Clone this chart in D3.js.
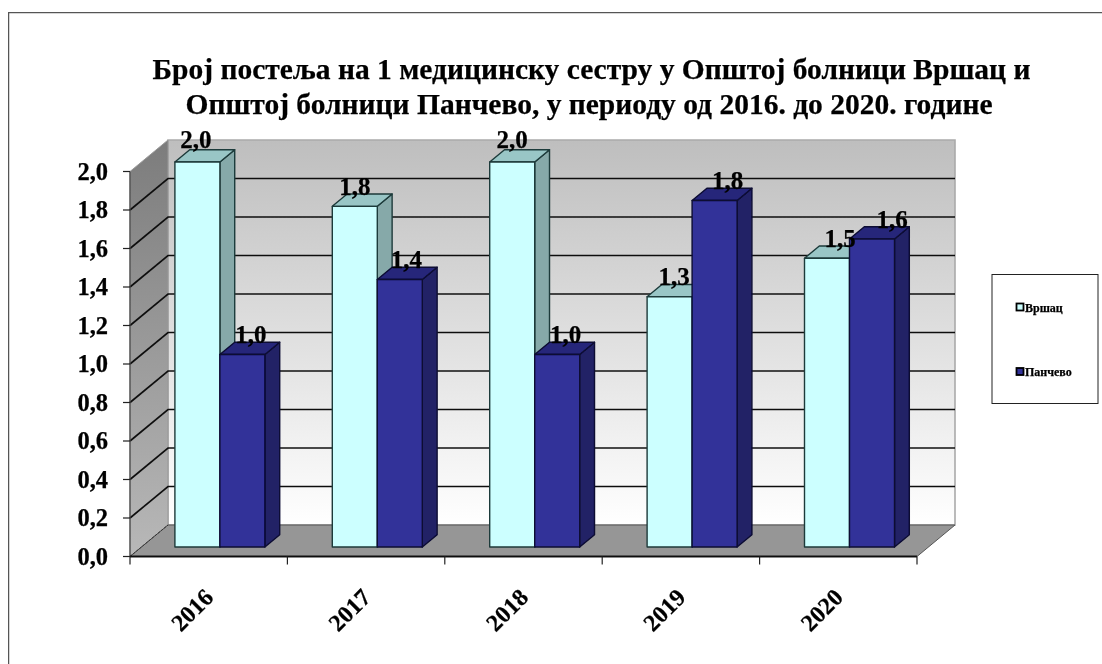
<!DOCTYPE html>
<html><head><meta charset="utf-8">
<script src="https://cdnjs.cloudflare.com/ajax/libs/d3/7.8.5/d3.min.js"></script>
<style>html,body{margin:0;padding:0;background:#fff}svg{display:block}text{font-family:"Liberation Serif",serif;font-weight:bold;fill:#000;stroke:#000;stroke-width:.25px}</style>
</head><body><svg id="c" width="1102" height="664"></svg>
<script>
const categories = ["2016","2017","2018","2019","2020"];
const vrsac = [2.0,1.77,2.0,1.3,1.5];
const pancevo = [1.0,1.39,1.0,1.8,1.6];
const seriesNames = ["Вршац","Панчево"];
const colors = ["#ccffff","#333399"];
const sideColors = ["#86a9a9","#222266"];
const topColors = ["#99c6c6","#26267a"];
const yTicks = [0,0.2,0.4,0.6,0.8,1.0,1.2,1.4,1.6,1.8,2.0];
const titleLines = ["Број постеља на 1 медицинску сестру у Општој болници Вршац и","Општој болници Панчево, у периоду од 2016. до 2020. године"];

const svg = d3.select("#c");
const fmt = v => d3.format(".1f")(v).replace(".",",");
const x0 = d3.scaleBand().domain(categories).range([130,917]);
const x1 = d3.scaleBand().domain([0,1]).range([0,90]);
const y = d3.scaleLinear().domain([0,2]).range([556.5,171.5]);
const DX = 38, DY = -31.5;
const pad = 45 - 11.5, zF = 0.3, zB = 0.69;
// horizontal drift of the data labels per series and category
const labelShift = [[-1.5,0,0,4.5,13],[8.5,6.5,8.5,13,20]];

const defs = svg.append("defs");
const g1 = defs.append("linearGradient").attr("id","wall").attr("x1",0).attr("y1",0).attr("x2",0).attr("y2",1);
g1.append("stop").attr("offset",0).attr("stop-color","#bebebe");
g1.append("stop").attr("offset",1).attr("stop-color","#ffffff");
const g2 = defs.append("linearGradient").attr("id","side").attr("x1",0).attr("y1",0).attr("x2",0).attr("y2",1);
g2.append("stop").attr("offset",0).attr("stop-color","#7c7c7c");
g2.append("stop").attr("offset",1).attr("stop-color","#b8b8b8");
const fl = defs.append("filter").attr("id","soft").attr("x","0").attr("y","0").attr("width","1").attr("height","1").attr("filterUnits","objectBoundingBox");
fl.append("feGaussianBlur").attr("stdDeviation",0.5);

const root = svg.append("g").attr("filter","url(#soft)");
root.append("path").attr("d","M1102,12.5H8.5V664").attr("fill","none").attr("stroke","#555").attr("stroke-width",1.5);

const L = x0.range()[0], R = x0.range()[1];
const poly = pts => "M"+pts.map(p=>p.join(",")).join("L")+"Z";
const y0 = y(0), yT = y(2);
root.append("path").attr("d",poly([[L+DX,yT+DY],[R+DX,yT+DY],[R+DX,y0+DY],[L+DX,y0+DY]])).attr("fill","url(#wall)").attr("stroke","#aaaaaa").attr("stroke-width",1.6);
root.append("path").attr("d",poly([[L,yT],[L+DX,yT+DY],[L+DX,y0+DY],[L,y0]])).attr("fill","url(#side)").attr("stroke","#999");
root.append("path").attr("d",poly([[L,y0],[L+DX,y0+DY],[R+DX,y0+DY],[R,y0]])).attr("fill","#969696").attr("stroke","#555");
yTicks.slice(1,-1).forEach(t=>{
  root.append("path").attr("d",`M${L},${y(t)}L${L+DX},${y(t)+DY}L${R+DX},${y(t)+DY}`).attr("fill","none").attr("stroke","#111").attr("stroke-width",1.7);
});
root.append("path").attr("d",`M${L},${y0}L${L+DX},${y0+DY}`).attr("fill","none").attr("stroke","#333").attr("stroke-width",1).attr("stroke-dasharray","3 1");
root.append("path").attr("d",`M${L},${yT}V${y0}`).attr("fill","none").attr("stroke","#444").attr("stroke-width",1.2);
root.append("path").attr("d",`M${L},${y0}H${R}`).attr("fill","none").attr("stroke","#111").attr("stroke-width",2);
yTicks.forEach(t=>{
  root.append("line").attr("x1",L-7).attr("x2",L).attr("y1",y(t)).attr("y2",y(t)).attr("stroke","#222").attr("stroke-width",1.2);
  root.append("text").attr("x",L-22).attr("y",y(t)+8).attr("text-anchor","end").attr("font-size",24.5).text(fmt(t));
});
[...categories.map(c=>x0(c)),R].forEach(v=>{
  root.append("line").attr("x1",v).attr("x2",v).attr("y1",y0).attr("y2",y0+8).attr("stroke","#222").attr("stroke-width",1.2);
});
categories.forEach(c=>{
  const cx = x0(c)+x0.bandwidth()/2;
  root.append("text").attr("transform",`translate(${cx-16.5},${610}) rotate(-45)`).attr("text-anchor","middle").attr("font-size",24).attr("dy",8).text(c);
});
const bars=[];
categories.forEach((c,i)=>{[vrsac[i],pancevo[i]].forEach((v,s)=>bars.push({c,v,s,i}));});
const fx=DX*zF, fy=DY*zF, bx=DX*zB, by=DY*zB;
bars.forEach(b=>{
  const xl=x0(b.c)+pad+x1(b.s)+fx, xr=xl+x1.bandwidth();
  const yb=y(0)+fy, yt=y(b.v)+fy, dx=bx-fx, dy=by-fy;
  const stroke = b.s===0 ? "#1d3a3a" : "#0b0b33";
  const g=root.append("g").attr("stroke",stroke).attr("stroke-width",1.4).attr("stroke-linejoin","round");
  g.append("path").attr("d",poly([[xr,yt],[xr+dx,yt+dy],[xr+dx,yb+dy],[xr,yb]])).attr("fill",sideColors[b.s]);
  g.append("path").attr("d",poly([[xl,yt],[xl+dx,yt+dy],[xr+dx,yt+dy],[xr,yt]])).attr("fill",topColors[b.s]);
  g.append("path").attr("d",poly([[xl,yt],[xr,yt],[xr,yb],[xl,yb]])).attr("fill",colors[b.s]);
});
bars.forEach(b=>{
  const xl=x0(b.c)+pad+x1(b.s)+fx, xm=xl+x1.bandwidth()/2;
  const lift = b.v>=2 ? 14.5 : 11.5;
  root.append("text").attr("x",xm+labelShift[b.s][b.i]).attr("y",y(b.v)+fy-lift).attr("text-anchor","middle").attr("font-size",25).text(fmt(b.v));
});
titleLines.forEach((t,i)=>{
  root.append("text").attr("x",i?589:591.5).attr("y",79+i*35).attr("text-anchor","middle").attr("font-size",29.5).text(t);
});
root.append("rect").attr("x",992).attr("y",274.5).attr("width",106).attr("height",129).attr("fill","#fff").attr("stroke","#222").attr("stroke-width",1);
seriesNames.forEach((n,i)=>{
  const ly=[307,371.5][i];
  root.append("rect").attr("x",1016.5).attr("y",ly-3.5).attr("width",7).attr("height",7).attr("fill",colors[i]).attr("stroke","#000").attr("stroke-width",1.8);
  root.append("text").attr("x",1025).attr("y",ly+4.5).attr("font-size",12).text(n);
});
</script></body></html>
